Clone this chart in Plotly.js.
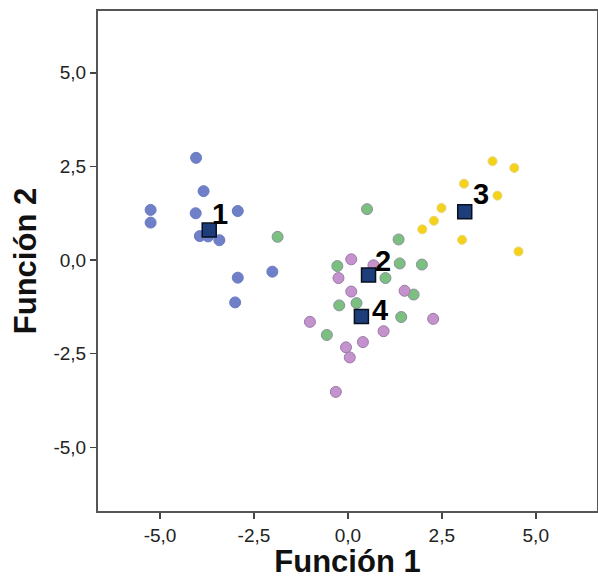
<!DOCTYPE html>
<html>
<head>
<meta charset="utf-8">
<script src="https://cdn.plot.ly/plotly-3.0.1.min.js"></script>
<style>
html,body{margin:0;padding:0;background:#fff;}
#chart{width:598px;height:579px;}
</style>
</head>
<body>
<div id="chart"></div>
<script>
// Group 1 (blue)
const g1x = [-4.04, -3.84, -5.25, -5.25, -4.05, -2.93, -3.94, -3.72, -3.42, -2.01, -2.93, -3.00];
const g1y = [ 2.73,  1.84,  1.34,  1.00,  1.25,  1.31,  0.64,  0.63,  0.53, -0.31, -0.47, -1.13];
// Group 2 (green)
const g2x = [-1.87, 0.51, 1.35, -0.28, 1.38, 1.97, 1.00, 1.75, -0.23, 0.23, 1.42, -0.56];
const g2y = [ 0.62, 1.36, 0.55, -0.16, -0.09, -0.12, -0.48, -0.92, -1.21, -1.15, -1.52, -2.00];
// Group 3 (yellow)
const g3x = [3.85, 4.43, 3.09, 3.98, 2.49, 2.29, 1.98, 3.04, 4.54];
const g3y = [2.64, 2.46, 2.04, 1.72, 1.39, 1.05, 0.82, 0.54, 0.23];
// Group 4 (purple)
const g4x = [0.09, 0.68, -0.25, 0.09, 1.51, 2.27, -1.01, 0.95, 0.40, -0.05, 0.05, -0.32];
const g4y = [0.02, -0.14, -0.48, -0.84, -0.82, -1.57, -1.65, -1.90, -2.19, -2.33, -2.60, -3.52];
// Group centroids
const centLabels = ["1", "2", "3", "4"];
const centX = [-3.69, 0.55, 3.11, 0.36];
const centY = [0.80, -0.40, 1.29, -1.51];
// Tick labels
const tickVals = [-5, -2.5, 0, 2.5, 5];
const tickText = ["-5,0", "-2,5", "0,0", "2,5", "5,0"];

// label offsets (styling, pixels)
const labShiftX = [11, 14, 16, 19];
const labShiftY = [16, 14, 18, 7];

const FONT = "Liberation Sans, Arial, sans-serif";

function pts(x, y, fill, line, size) {
  return {
    x: x, y: y, type: "scatter", mode: "markers", hoverinfo: "x+y",
    marker: {color: fill, size: size, line: {color: line, width: 1}}
  };
}

const data = [
  pts(g1x, g1y, "#6f80c9", "#6a7bc2", 11),
  pts(g2x, g2y, "#7cc07f", "#8a8fa0", 11),
  pts(g4x, g4y, "#c493cd", "#9a7aa6", 11),
  pts(g3x, g3y, "#f4d21a", "#e8d57a", 9),
  {
    x: centX, y: centY, type: "scatter", mode: "markers",
    marker: {symbol: "square", color: "#1d3e7a", size: 14, line: {color: "#0a0f1e", width: 1.5}},
    hoverinfo: "x+y"
  }
];

const annotations = centLabels.map((t, i) => ({
  x: centX[i], y: centY[i], xref: "x", yref: "y", text: t, showarrow: false,
  xshift: labShiftX[i], yshift: labShiftY[i],
  font: {family: FONT, size: 29, color: "#000", weight: "bold"}
}));

const axisCommon = {
  tickvals: tickVals, ticktext: tickText,
  ticks: "outside", ticklen: 6, tickwidth: 1.5, tickcolor: "#444",
  showgrid: false, zeroline: false,
  showline: true, mirror: true, linecolor: "#555", linewidth: 2,
  tickfont: {family: FONT, size: 19, color: "#222"}
};

const layout = {
  width: 598, height: 579,
  margin: {l: 98, r: 1, t: 11, b: 68},
  paper_bgcolor: "#fff", plot_bgcolor: "#fff",
  showlegend: false,
  separators: ",.",
  xaxis: Object.assign({}, axisCommon, {
    range: [-6.65, 6.63],
    title: {text: "Función 1", standoff: 7, font: {family: FONT, size: 31, color: "#111", weight: "bold"}}
  }),
  yaxis: Object.assign({}, axisCommon, {
    range: [-6.70, 6.65],
    title: {text: "Función 2", standoff: 8, font: {family: FONT, size: 31, color: "#111", weight: "bold"}}
  }),
  annotations: annotations
};

Plotly.newPlot("chart", data, layout, {displayModeBar: false, staticPlot: true});
</script>
</body>
</html>
